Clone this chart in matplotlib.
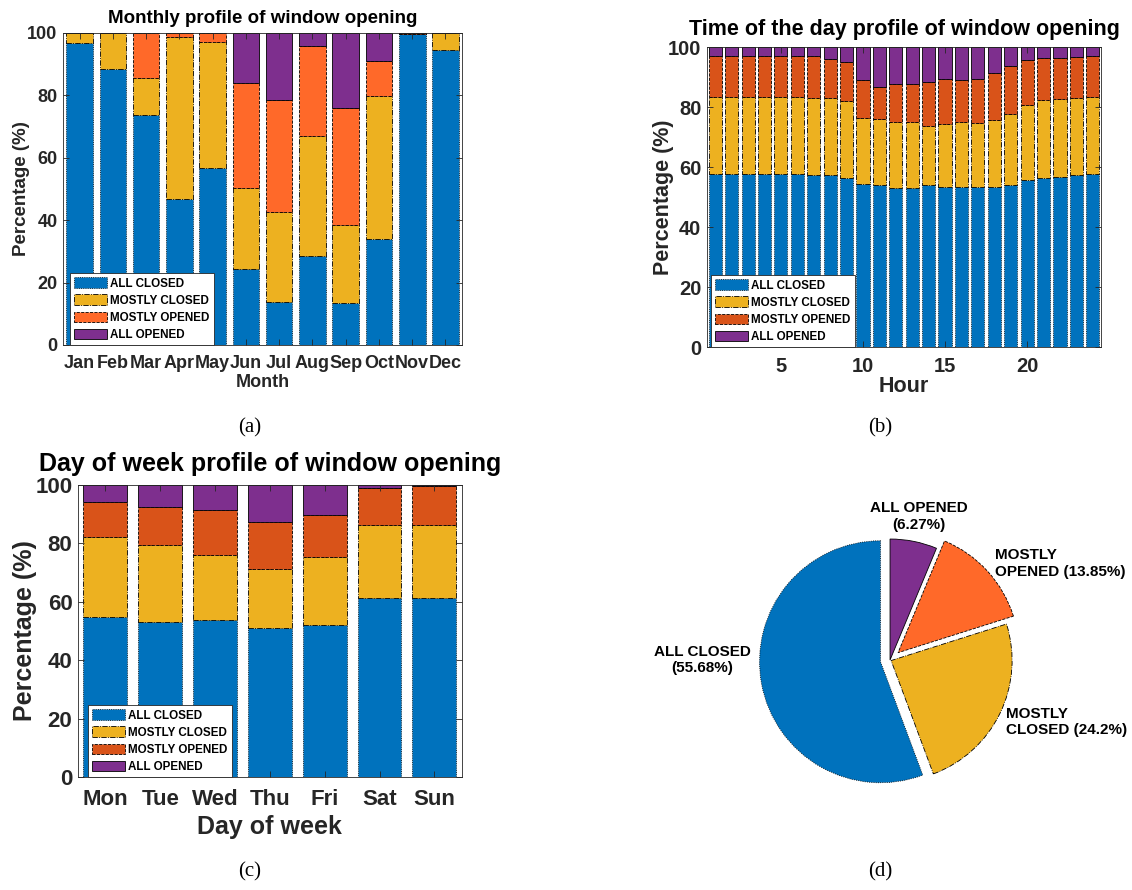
import numpy as np
import matplotlib.pyplot as plt

plt.rcParams['font.family'] = ['Liberation Sans', 'DejaVu Sans']
plt.rcParams['font.weight'] = 'bold'
plt.rcParams['axes.titleweight'] = 'bold'
plt.rcParams['axes.labelweight'] = 'bold'

states = ['ALL CLOSED', 'MOSTLY CLOSED', 'MOSTLY OPENED', 'ALL OPENED']

# (a) monthly profile, % of time in each state
months = ['Jan', 'Feb', 'Mar', 'Apr', 'May', 'Jun', 'Jul', 'Aug', 'Sep', 'Oct', 'Nov', 'Dec']
month_all_closed = [96.8, 88.4, 73.8, 46.8, 56.6, 24.2, 13.9, 28.6, 13.4, 33.9, 99.8, 94.4]
month_mostly_closed = [3.2, 11.6, 11.8, 51.9, 40.6, 26.0, 28.8, 38.5, 25.1, 46.0, 0.0, 5.6]
month_mostly_opened = [0.0, 0.0, 14.4, 1.3, 2.8, 33.9, 35.8, 28.8, 37.4, 11.2, 0.1, 0.0]
month_all_opened = [0.0, 0.0, 0.0, 0.0, 0.0, 15.9, 21.5, 4.1, 24.1, 8.9, 0.1, 0.0]

# (b) time of the day profile
hours = list(range(1, 25))
hour_all_closed = [57.6, 57.6, 57.6, 57.6, 57.6, 57.6, 57.2, 57.2, 56.4, 54.4, 54.1, 53.1,
                   53.1, 53.9, 53.3, 53.3, 53.3, 53.3, 53.9, 55.6, 56.4, 56.7, 57.2, 57.6]
hour_mostly_closed = [25.7, 25.7, 25.7, 25.7, 25.7, 25.7, 25.9, 25.7, 25.5, 22.0, 21.9, 21.8,
                      21.9, 19.9, 21.1, 21.6, 21.4, 22.3, 23.9, 25.2, 26.0, 25.9, 25.8, 25.7]
hour_mostly_opened = [13.7, 13.7, 13.7, 13.7, 13.7, 13.7, 13.9, 13.2, 13.0, 12.7, 10.7, 12.9,
                      12.8, 14.5, 14.9, 14.0, 14.6, 15.7, 15.8, 15.0, 14.0, 13.8, 13.7, 13.6]
hour_all_opened = [3.0, 3.0, 3.0, 3.0, 3.0, 3.0, 3.0, 3.9, 5.1, 10.9, 13.3, 12.2,
                   12.2, 11.7, 10.7, 11.1, 10.7, 8.7, 6.4, 4.2, 3.6, 3.6, 3.3, 3.1]

# (c) day of week profile
days = ['Mon', 'Tue', 'Wed', 'Thu', 'Fri', 'Sat', 'Sun']
day_all_closed = [54.9, 53.1, 53.9, 51.2, 52.2, 61.4, 61.4]
day_mostly_closed = [27.4, 26.3, 22.0, 20.2, 23.2, 24.8, 24.8]
day_mostly_opened = [11.8, 13.2, 15.5, 15.8, 14.3, 12.7, 13.6]
day_all_opened = [5.9, 7.4, 8.6, 12.8, 10.3, 1.1, 0.2]

# (d) overall share
overall = [55.68, 24.2, 13.85, 6.27]

GREY = '#262626'
edge_styles = [':', '-.', '--', '-']
colors_ad = ['#0072BD', '#EDB120', '#FF6929', '#7E2F8E']
colors_bc = ['#0072BD', '#EDB120', '#D95319', '#7E2F8E']


def stacked_bars(ax, x, series, colors):
    bottom = np.zeros(len(x))
    for vals, c, ls, name in zip(series, colors, edge_styles, states):
        ax.bar(x, vals, 0.8, bottom=bottom, color=c, edgecolor='black',
               linestyle=ls, linewidth=0.6, label=name)
        bottom = bottom + np.asarray(vals)


def style_axes(ax, n, tick_fs, pad):
    ax.set_xlim(0.5, n + 0.5)
    ax.set_ylim(0, 100)
    ax.set_yticks(range(0, 101, 20))
    ax.tick_params(direction='in', top=True, right=True, length=4, width=0.6,
                   colors=GREY, labelsize=tick_fs)
    ax.tick_params(axis='x', pad=pad)
    ax.tick_params(axis='y', pad=4)
    for s in ax.spines.values():
        s.set_color(GREY)
        s.set_linewidth(0.6)


def add_legend(ax, x0):
    leg = ax.legend(loc='lower left', bbox_to_anchor=(x0, 0.0), borderaxespad=0,
                    fontsize=8.4, fancybox=False, framealpha=1, edgecolor=GREY,
                    handlelength=2.8, handleheight=1.0, handletextpad=0.3,
                    labelspacing=0.42, borderpad=0.35)
    leg.get_frame().set_linewidth(0.6)


fig = plt.figure(figsize=(11.32, 8.9), dpi=100)

# (a)
ax = fig.add_axes([0.0557, 0.6124, 0.3525, 0.3506])
stacked_bars(ax, np.arange(1, 13),
             [month_all_closed, month_mostly_closed, month_mostly_opened, month_all_opened],
             colors_ad)
style_axes(ax, 12, 13, 7)
ax.set_xticks(np.arange(1, 13))
ax.set_xticklabels(months)
ax.set_title('Monthly profile of window opening', fontsize=13.5, pad=7)
ax.set_xlabel('Month', fontsize=13, color=GREY, labelpad=2)
ax.set_ylabel('Percentage (%)', fontsize=13.5, color=GREY, labelpad=-2)
add_legend(ax, 0.018)

# (b)
ax = fig.add_axes([0.6246, 0.6101, 0.348, 0.337])
stacked_bars(ax, hours,
             [hour_all_closed, hour_mostly_closed, hour_mostly_opened, hour_all_opened],
             colors_bc)
style_axes(ax, 24, 14.5, 7)
ax.set_xticks([5, 10, 15, 20])
ax.set_title('Time of the day profile of window opening', fontsize=15.5, pad=9)
ax.set_xlabel('Hour', fontsize=15.5, color=GREY, labelpad=0)
ax.set_ylabel('Percentage (%)', fontsize=15.5, color=GREY, labelpad=-4)
add_legend(ax, 0.01)

# (c)
ax = fig.add_axes([0.0689, 0.127, 0.339, 0.328])
stacked_bars(ax, np.arange(1, 8),
             [day_all_closed, day_mostly_closed, day_mostly_opened, day_all_opened],
             colors_bc)
style_axes(ax, 7, 16, 9)
ax.set_xticks(np.arange(1, 8))
ax.set_xticklabels(days)
ax.set_title('Day of week profile of window opening', fontsize=18, pad=10)
ax.set_xlabel('Day of week', fontsize=18, color=GREY, labelpad=3)
ax.set_ylabel('Percentage (%)', fontsize=18, color=GREY, labelpad=-1)
add_legend(ax, 0.026)

# (d)
axd = fig.add_axes([0.5919, 0.0674, 0.3887, 0.382])
pie_explode = [0.08, 0.01, 0.09, 0.0]
wedges, _ = axd.pie(overall, explode=pie_explode, colors=colors_ad, startangle=90,
                    counterclock=True, wedgeprops=dict(edgecolor='black', linewidth=0.6))
for w, ls in zip(wedges, edge_styles):
    w.set_linestyle(ls)
axd.set_xlim(-1.818, 1.818)
axd.set_ylim(-1.405, 1.405)

pie_labels = ['ALL CLOSED\n({:g}%)', 'MOSTLY\nCLOSED ({:g}%)',
              'MOSTLY\nOPENED ({:g}%)', 'ALL OPENED\n({:g}%)']
label_dist = [1.09, 1.06, 1.09, 1.21]
label_shift = [7, -4, 0, 0]  # vertical nudge in points
label_ha = ['right', 'left', 'left', 'center']
label_va = ['bottom', 'center', 'center', 'center']
label_ma = ['center', 'left', 'left', 'center']
for w, txt, v, d, dy, ha, va, ma in zip(wedges, pie_labels, overall, label_dist,
                                         label_shift, label_ha, label_va, label_ma):
    mid = np.deg2rad((w.theta1 + w.theta2) / 2)
    cx, cy = w.center
    axd.annotate(txt.format(v), (cx + d * np.cos(mid), cy + d * np.sin(mid)),
                 xytext=(0, dy), textcoords='offset points',
                 ha=ha, va=va, multialignment=ma, fontsize=11, color='black')

# captions
for x, y, s in [(0.2208, 0.519, '(a)'), (0.7774, 0.519, '(b)'),
                (0.2208, 0.02, '(c)'), (0.7774, 0.02, '(d)')]:
    fig.text(x, y, s, ha='center', va='center', fontsize=15,
             family='Liberation Serif', weight='normal')

fig.savefig('out.png', dpi=100)
